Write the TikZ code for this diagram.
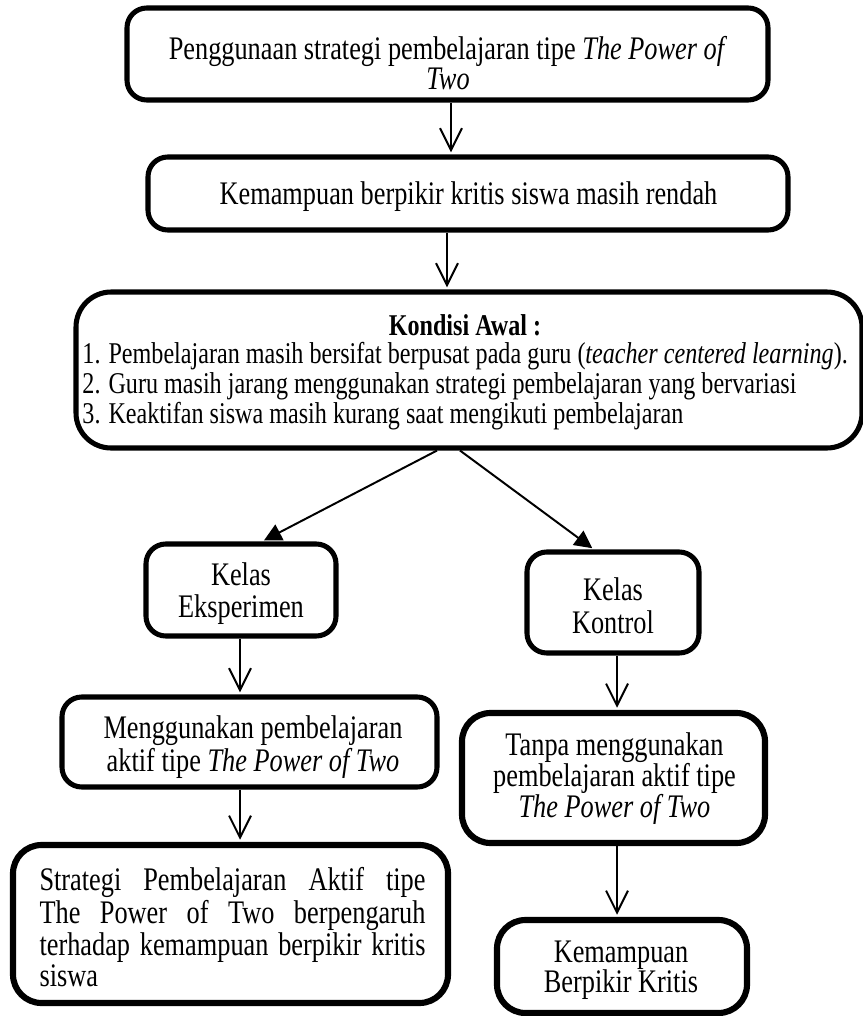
\documentclass[tikz,border=0pt]{standalone}
\usepackage{fontspec}
\setmainfont{Liberation Serif}[FakeStretch=0.8]
\usetikzlibrary{arrows.meta}
\def\px{0.456pt}
\tikzset{
 box/.style={draw, line width=2.3pt, rounded corners=9pt, inner sep=0pt},
 heavy/.style={line width=2.8pt, rounded corners=13pt},
 txt/.style={inner sep=0pt, align=center},
 varrow/.style={line width=0.9pt, shorten >=1pt, -{Straight Barb[length=10pt,width=10pt,line width=0.9pt]}},
 darrow/.style={line width=0.9pt, shorten >=1pt, -{Triangle[length=8pt,width=8pt]}},
 smalltext/.style={inner sep=0pt, font=\fontsize{13.75}{12.1}\selectfont}
}
\begin{document}
\begin{tikzpicture}[x=\px, y=-\px]
\useasboundingbox (0,0) rectangle (862,1016);

% boxes
\node[box, minimum width=641*\px, minimum height=92*\px] (b1) at (447.5,54) {};
\node[box, minimum width=640*\px, minimum height=73*\px] (b2) at (468,193.5) {};
\node[box, rounded corners=16pt, minimum width=786*\px, minimum height=156*\px] (b3) at (469,370) {};
\node[box, minimum width=190*\px, minimum height=92*\px] (eks) at (241,590) {};
\node[box, minimum width=172*\px, minimum height=101*\px] (kon) at (613,602.5) {};
\node[box, minimum width=375*\px, minimum height=90*\px] (meng) at (249.5,742) {};
\node[box, heavy, minimum width=303*\px, minimum height=130*\px] (tanpa) at (613.5,778) {};
\node[box, heavy, minimum width=435*\px, minimum height=158*\px] (strat) at (230.5,924) {};
\node[box, heavy, minimum width=250*\px, minimum height=93*\px] (kem) at (622,966.5) {};

% texts
\node[txt, font=\fontsize{15}{12.3}\selectfont] (t1) at (448,63)
  {Penggunaan strategi pembelajaran tipe \textit{The Power of}\\\textit{Two}};
\node[txt, font=\fontsize{15}{13}\selectfont] (t2) at (468.5,197)
  {Kemampuan berpikir kritis siswa masih rendah};
\node[smalltext] (b3title) at (465,325) {\textbf{Kondisi Awal :}};
\node[smalltext, anchor=west, align=left] (b3list) at (82,386)
  {1. Pembelajaran masih bersifat berpusat pada guru (\textit{teacher centered learning}).\\
   2. Guru masih jarang menggunakan strategi pembelajaran yang bervariasi\\
   3. Keaktifan siswa masih kurang saat mengikuti pembelajaran};
\node[txt, font=\fontsize{15}{14.6}\selectfont] (teks) at (241,594) {Kelas\\Eksperimen};
\node[txt, font=\fontsize{15}{15}\selectfont] (tkon) at (613,606) {Kelas\\Kontrol};
\node[txt, font=\fontsize{15}{13.7}\selectfont] (tmeng) at (253,747)
  {Menggunakan pembelajaran\\aktif tipe \textit{The Power of Two}};
\node[txt, font=\fontsize{15}{14.1}\selectfont] (ttanpa) at (614.5,779)
  {Tanpa menggunakan\\pembelajaran aktif tipe\\\textit{The Power of Two}};
\node[txt, text width=176pt, align=justify, font=\fontsize{15}{13.1}\selectfont] (tstrat) at (232.5,927)
  {\hyphenpenalty=10000 Strategi Pembelajaran Aktif tipe\linebreak The Power of Two berpengaruh\linebreak terhadap kemampuan berpikir kritis\linebreak siswa};
\node[txt, font=\fontsize{15}{13.7}\selectfont] (tkem) at (621,970)
  {Kemampuan\\Berpikir Kritis};

% connectors
\coordinate (xa) at (451,0);
\coordinate (xb) at (447,0);
\coordinate (d1) at (437,0);
\coordinate (d2) at (262,0);
\coordinate (d3) at (460,0);
\coordinate (d4) at (594,0);
\coordinate (xl) at (240,0);
\coordinate (xr) at (617,0);

\draw[varrow] (b1.south -| xa) -- (b2.north -| xa);
\draw[varrow] (b2.south -| xb) -- (b3.north -| xb);
\draw[darrow] (b3.south -| d1) -- (eks.north -| d2);
\draw[darrow] (b3.south -| d3) -- (kon.north -| d4);
\draw[varrow] (eks.south -| xl) -- (meng.north -| xl);
\draw[varrow] (meng.south -| xl) -- (strat.north -| xl);
\draw[varrow] (kon.south -| xr) -- (tanpa.north -| xr);
\draw[varrow] (tanpa.south -| xr) -- (kem.north -| xr);
\end{tikzpicture}
\end{document}
